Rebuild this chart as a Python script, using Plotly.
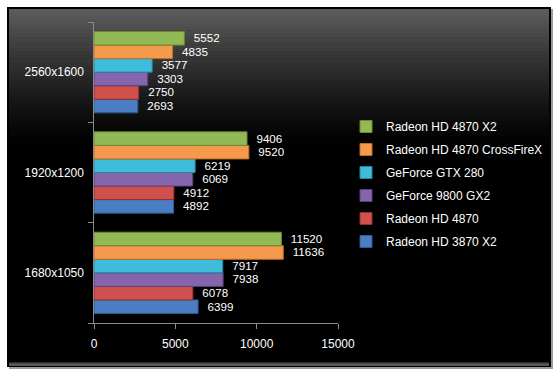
import plotly.graph_objects as go

categories = ["1680x1050", "1920x1200", "2560x1600"]
series_names = [
    "Radeon HD 3870 X2",
    "Radeon HD 4870",
    "GeForce 9800 GX2",
    "GeForce GTX 280",
    "Radeon HD 4870 CrossFireX",
    "Radeon HD 4870 X2",
]
hd3870x2 = [6399, 4892, 2693]
hd4870 = [6078, 4912, 2750]
gf9800gx2 = [7938, 6069, 3303]
gtx280 = [7917, 6219, 3577]
hd4870cf = [11636, 9520, 4835]
hd4870x2 = [11520, 9406, 5552]
series_values = [hd3870x2, hd4870, gf9800gx2, gtx280, hd4870cf, hd4870x2]
x_ticks = [0, 5000, 10000, 15000]

colors = ["#4a7ec2", "#d0504e", "#8566ad", "#3fbcd9", "#f59a4c", "#93b954"]
edges = ["#2f5a8f", "#952f2d", "#5b417c", "#2684a0", "#c06a22", "#6a8a33"]

W, H = 559, 376
FONT = "Liberation Sans"

fig = go.Figure()
for i, (name, vals, c, e) in enumerate(zip(series_names, series_values, colors, edges)):
    fig.add_trace(go.Bar(
        y=categories, x=vals, name=name, orientation="h",
        marker=dict(color=c, line=dict(color=e, width=1)),
        text=[f"\u00a0\u00a0{v}" for v in vals],
        textposition="outside", cliponaxis=False,
        textfont=dict(color="white", size=12, family=FONT),
        legendgroup=name,
        legendrank=1000 - i,
    ))

shapes = []
def px(x):
    return x / W
def py(y):
    return 1 - y / H

shapes.append(dict(type="rect", xref="paper", yref="paper",
                   x0=px(9), x1=px(553), y0=py(369), y1=py(9),
                   fillcolor="#9a9a9a", line=dict(width=0), layer="below"))
shapes.append(dict(type="rect", xref="paper", yref="paper",
                   x0=px(7), x1=px(551), y0=py(367), y1=py(7),
                   fillcolor="#000000", line=dict(width=0), layer="below"))
top, bot = 9, 150
n = 40
c0 = 0x5c
for i in range(n):
    y0 = top + (bot - top) * i / n
    y1 = top + (bot - top) * (i + 1) / n
    t = i / (n - 1)
    v = int(round(c0 * (1 - t) ** 1.3))
    col = f"rgb({v},{v},{v})"
    shapes.append(dict(type="rect", xref="paper", yref="paper",
                       x0=px(9), x1=px(549), y0=py(y1 + 0.5), y1=py(y0),
                       fillcolor=col, line=dict(width=0), layer="below"))
for i, v in enumerate([40, 70, 95, 80]):
    shapes.append(dict(type="rect", xref="paper", yref="paper",
                       x0=px(9), x1=px(549), y0=py(362 + i + 1), y1=py(362 + i),
                       fillcolor=f"rgb({v},{v},{v})", line=dict(width=0), layer="below"))

fig.update_layout(
    width=W, height=H,
    margin=dict(l=0, r=0, t=0, b=0, autoexpand=False),
    paper_bgcolor="white",
    plot_bgcolor="rgba(0,0,0,0)",
    barmode="group",
    bargap=0.19,
    bargroupgap=0,
    shapes=shapes,
    font=dict(family=FONT, color="white", size=12),
    xaxis=dict(
        domain=[px(94), px(338)],
        range=[0, 15000],
        tickvals=x_ticks,
        ticktext=[str(v) for v in x_ticks],
        showgrid=False, zeroline=False,
        showline=True, linecolor="#8a8a8a", linewidth=1,
        ticks="outside", ticklen=5, tickcolor="#8a8a8a",
        ticklabelstandoff=5,
        tickfont=dict(color="white", size=12, family=FONT),
    ),
    yaxis=dict(
        domain=[1 - 323 / H, 1 - 22 / H],
        showgrid=False, zeroline=False,
        showline=True, linecolor="#8a8a8a", linewidth=1,
        ticks="outside", ticklen=5, tickcolor="#8a8a8a",
        tickson="boundaries",
        ticksuffix="  ",
        tickfont=dict(color="white", size=12, family=FONT),
    ),
    legend=dict(
        x=px(346), y=py(112), xanchor="left", yanchor="top",
        traceorder="grouped", tracegroupgap=4,
        bgcolor="rgba(0,0,0,0)",
        font=dict(color="white", size=12, family=FONT),
        itemwidth=30,
    ),
)

fig.write_html("out.html", config={"displayModeBar": False},
               post_script="document.body.style.margin='0';")
